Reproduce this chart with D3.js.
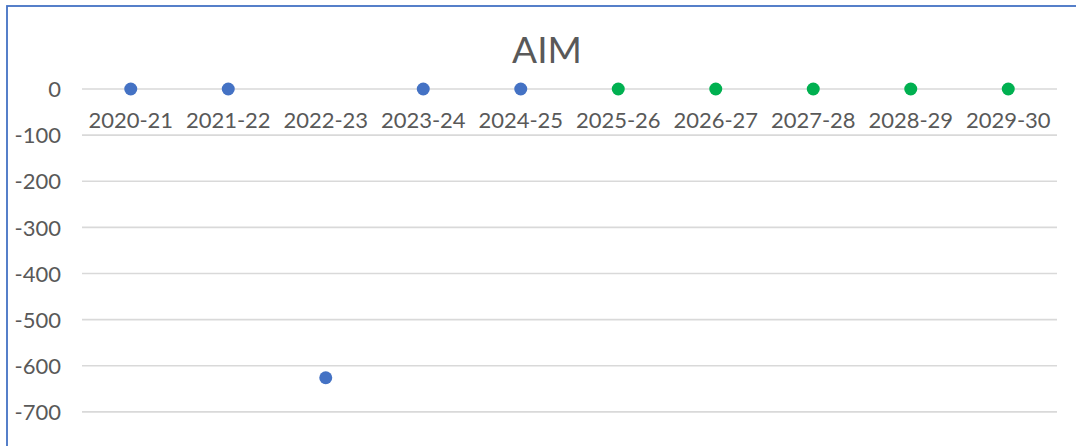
<!DOCTYPE html>
<html>
<head>
<meta charset="utf-8">
<script src="https://cdn.jsdelivr.net/npm/d3@7"></script>
<style>
html,body{margin:0;padding:0;background:#fff;}
svg{display:block;}
</style>
</head>
<body>
<svg id="chart" width="1076" height="446"></svg>
<script>
const categories = ["2020-21","2021-22","2022-23","2023-24","2024-25","2025-26","2026-27","2027-28","2028-29","2029-30"];
const values = [0, 0, -626, 0, 0, 0, 0, 0, 0, 0];
const seriesType = ["actual","actual","actual","actual","actual","forecast","forecast","forecast","forecast","forecast"];
const yTicks = [0,-100,-200,-300,-400,-500,-600,-700];
const title = "AIM";

(function(){
const svg = d3.select("#chart");
const font = "Lato, 'Open Sans', sans-serif";
const textColor = "#595959";

// chart border
svg.append("rect").attr("x",7).attr("y",6).attr("width",1080).attr("height",600)
  .attr("fill","#fff").attr("stroke","#4472C4").attr("stroke-width",1.8);

const pLeft = 82, pRight = 1057, pTop = 89, pBottom = 458;
const x = d3.scaleBand().domain(categories).range([pLeft,pRight]);
const y = d3.scaleLinear().domain([0,-800]).range([pTop,pBottom]);

// gridlines
svg.append("g").selectAll("line").data(yTicks.concat([-800])).join("line")
  .attr("x1",pLeft).attr("x2",pRight)
  .attr("y1",d=>y(d)).attr("y2",d=>y(d))
  .attr("stroke","#D9D9D9").attr("stroke-width",1.6);

// y axis labels
const yAxis = d3.axisLeft(y).tickValues(yTicks).tickSize(0).tickPadding(0).tickFormat(d => String(d));
const gy = svg.append("g").attr("transform",`translate(${pLeft-21},0)`).call(yAxis);
gy.select(".domain").remove();
gy.selectAll("text").attr("font-family",font).attr("font-size",22).attr("fill",textColor).attr("dy","0.35em");

// x axis labels (at zero line)
const xAxis = d3.axisBottom(x).tickSize(0).tickPadding(0);
const gx = svg.append("g").attr("transform",`translate(0,${y(0)+23})`).call(xAxis);
gx.select(".domain").remove();
gx.selectAll("text").attr("font-family",font).attr("font-size",22).attr("fill",textColor).attr("dy","0.71em");

// points
svg.append("g").selectAll("circle").data(categories).join("circle")
  .attr("cx",d=>x(d)+x.bandwidth()/2)
  .attr("cy",(d,i)=>y(values[i]))
  .attr("r",6.5)
  .attr("fill",(d,i)=>seriesType[i]==="actual" ? "#4472C4" : "#00B050");

// title
svg.append("text").attr("x",547).attr("y",63).attr("text-anchor","middle")
  .attr("font-family",font).attr("font-size",37).attr("fill",textColor).text(title);
})();
</script>
</body>
</html>
